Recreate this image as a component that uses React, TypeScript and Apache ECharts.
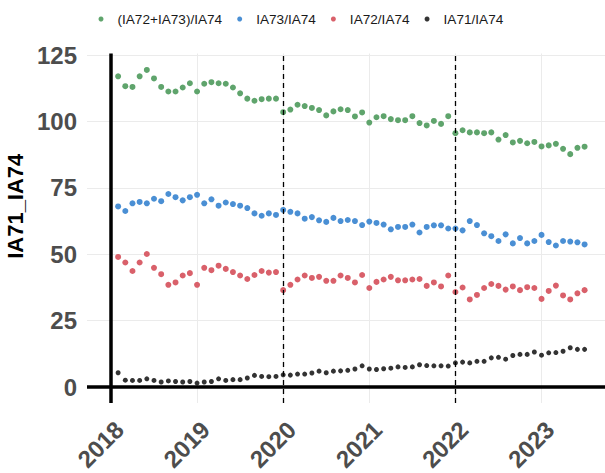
import React, { useEffect, useRef } from "react";
import * as echarts from "echarts";

// Monthly observations: Feb 2018 .. Jul 2023
const firstYear = 2018;
const firstMonth = 2;
const nObs = 66;
const months: string[] = [];
for (let i = 0; i < nObs; i++) {
  const m = firstMonth - 1 + i;
  months.push(`${firstYear + Math.floor(m / 12)}-${String((m % 12) + 1).padStart(2, "0")}`);
}

const seriesNames = ["(IA72+IA73)/IA74", "IA73/IA74", "IA72/IA74", "IA71/IA74"];

const sumRatio = [
  117.0, 113.3, 113.0, 117.0, 119.4, 116.2, 113.0, 111.3, 111.3, 112.8, 114.4,
  111.3, 114.2, 114.8, 114.4, 114.2, 112.8, 110.6, 108.6, 107.8, 108.4, 108.6, 108.6,
  103.5, 104.5, 106.3, 105.8, 105.1, 104.3, 102.3, 103.8, 104.6, 104.3, 101.9, 103.4,
  99.6, 101.6, 102.0, 100.9, 100.5, 100.5, 102.0, 99.4, 98.5, 100.2, 99.1, 102.0,
  95.6, 96.7, 95.9, 95.9, 95.6, 95.9, 93.2, 94.9, 92.1, 92.7, 91.8, 92.3,
  90.6, 91.0, 91.6, 89.7, 87.7, 90.1, 90.5,
];
const ia73Ratio = [
  68.0, 66.3, 69.2, 69.7, 69.2, 70.9, 70.0, 72.7, 71.5, 70.3, 71.5,
  72.4, 69.2, 70.7, 68.3, 69.5, 68.9, 68.3, 67.4, 65.4, 64.5, 65.4, 64.8,
  66.7, 66.0, 65.4, 63.4, 64.0, 62.8, 62.2, 63.7, 62.5, 62.9, 62.5, 61.0,
  62.3, 61.8, 61.2, 59.4, 60.3, 60.3, 61.2, 58.2, 60.3, 60.9, 60.9, 59.7,
  59.7, 59.0, 62.5, 61.0, 57.9, 56.8, 55.0, 57.5, 54.1, 56.1, 54.1, 55.0,
  57.3, 54.6, 53.3, 55.0, 54.8, 54.5, 53.7,
];
const ia72Ratio = [
  49.0, 46.9, 43.7, 46.9, 50.1, 44.9, 42.5, 38.5, 39.4, 42.0, 42.9,
  38.5, 44.9, 44.0, 45.7, 44.5, 43.3, 42.0, 40.7, 42.2, 43.7, 43.1, 43.3,
  36.5, 38.5, 40.5, 42.0, 41.1, 41.5, 40.0, 40.0, 42.0, 41.1, 39.4, 42.2,
  37.3, 39.6, 40.5, 41.5, 40.2, 40.2, 40.5, 40.7, 38.1, 39.4, 37.9, 42.0,
  35.8, 37.5, 33.0, 34.7, 37.3, 38.8, 38.1, 36.7, 37.9, 36.5, 37.6, 37.3,
  33.2, 36.2, 38.2, 34.5, 33.0, 35.3, 36.5,
];
const ia71Ratio = [
  5.4, 2.6, 2.5, 2.5, 3.1, 2.5, 1.9, 2.3, 2.1, 1.9, 2.1,
  1.5, 1.9, 2.1, 3.1, 2.5, 2.8, 2.8, 3.4, 4.4, 4.0, 3.9, 4.0,
  4.6, 4.5, 4.9, 4.9, 5.3, 6.0, 5.4, 6.0, 6.1, 6.3, 6.8, 8.0,
  6.8, 6.6, 6.9, 7.1, 7.6, 7.4, 7.6, 8.4, 8.1, 8.0, 8.0, 7.9,
  9.1, 9.4, 9.1, 9.7, 9.7, 11.0, 11.2, 10.5, 11.9, 12.3, 12.3, 13.2,
  12.0, 12.9, 13.0, 13.5, 14.8, 14.2, 14.2,
];

const yTicks = [0, 25, 50, 75, 100, 125];
const yearTicks = [2018, 2019, 2020, 2021, 2022, 2023];
const dashedYears = [2020, 2022];
const baseYear = 2018;

const toYear = (s: string) => {
  const [y, m] = s.split("-").map(Number);
  return y + (m - 1) / 12;
};

const FONT = "'Liberation Sans', Arial, sans-serif";

export default function App() {
  const ref = useRef<HTMLDivElement>(null);
  useEffect(() => {
    if (!ref.current) return;
    const chart = echarts.init(ref.current, null, { renderer: "svg" });
    const mk = (vals: number[]) => months.map((mo, i) => [toYear(mo), vals[i]]);
    const colors = ["#5fa46c", "#4a8fd4", "#d9606a", "#333333"];
    const allVals = [sumRatio, ia73Ratio, ia72Ratio, ia71Ratio];
    const series: any[] = seriesNames.map((name, k) => ({
      name,
      type: "scatter",
      data: mk(allVals[k]),
      symbolSize: k === 3 ? 5 : 6,
      itemStyle: { color: colors[k], opacity: 1 },
      z: 3,
    }));
    series.push({
      name: "lines",
      type: "scatter",
      data: [],
      silent: true,
      z: 2,
      markLine: {
        silent: true,
        symbol: ["none", "none"],
        label: { show: false },
        animation: false,
        data: [
          ...dashedYears.map((y) => ({
            xAxis: y,
            lineStyle: { color: "#000", width: 1.3, type: [5, 4] },
          })),
          { xAxis: baseYear, lineStyle: { color: "#000", width: 3.5, type: "solid" } },
          { yAxis: 0, lineStyle: { color: "#000", width: 3.5, type: "solid" } },
        ],
      },
    });
    chart.setOption({
      animation: false,
      backgroundColor: "#fff",
      textStyle: { fontFamily: FONT },
      legend: {
        data: seriesNames,
        left: 93.5,
        top: 7,
        icon: "circle",
        itemWidth: 5,
        itemHeight: 5,
        itemGap: 15,
        textStyle: {
          fontSize: 13.6,
          color: "#1a1a1a",
          fontFamily: FONT,
          padding: [0, 0, 0, 9],
        },
      },
      grid: {
        left: 87,
        right: 0,
        top: 53.5,
        bottom: 70,
        containLabel: false,
        outerBoundsMode: "none",
      },
      xAxis: {
        type: "value",
        min: 2017.722,
        max: 2023.737,
        axisLine: { show: false },
        axisTick: { show: false, customValues: yearTicks },
        axisLabel: {
          customValues: yearTicks,
          rotate: 45,
          fontSize: 24,
          fontWeight: "bold",
          color: "#4d4d4d",
          fontFamily: FONT,
          margin: 14,
          verticalAlign: "top",
          formatter: (v: number) => String(Math.round(v)),
        },
        splitLine: { show: true, lineStyle: { color: "#ebebeb", width: 1 } },
      },
      yAxis: {
        type: "value",
        min: -6,
        max: 125.6,
        name: "IA71_IA74",
        nameLocation: "middle",
        nameRotate: 90,
        nameGap: 57,
        nameTextStyle: {
          fontSize: 22,
          fontWeight: "bold",
          color: "#000",
          fontFamily: FONT,
          padding: [0, 0, 0, 44],
        },
        axisLine: { show: false },
        axisTick: { show: false, customValues: yTicks },
        axisLabel: {
          customValues: yTicks,
          fontSize: 24,
          fontWeight: "bold",
          color: "#4d4d4d",
          fontFamily: FONT,
          margin: 10,
        },
        splitLine: { show: true, lineStyle: { color: "#ebebeb", width: 1 } },
      },
      series,
    });
    return () => chart.dispose();
  }, []);
  return (
    <div
      ref={ref}
      style={{ position: "fixed", left: 0, top: 0, width: 605, height: 473 }}
    />
  );
}
